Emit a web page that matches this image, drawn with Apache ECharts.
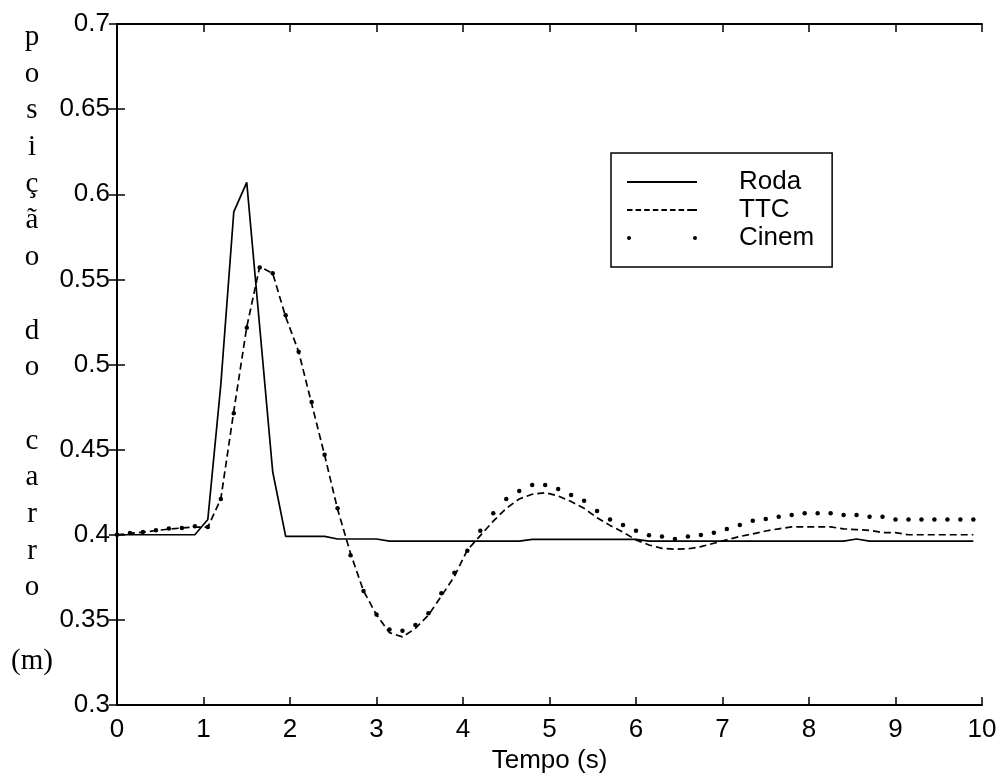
<!DOCTYPE html>
<html>
<head>
<meta charset="utf-8">
<script src="https://cdn.jsdelivr.net/npm/echarts@6/dist/echarts.min.js"></script>
<style>
html,body{margin:0;padding:0;background:#fff;}
#chart{width:1001px;height:776px;}
</style>
</head>
<body>
<div id="chart"></div>
<script>
// time samples (s)
const tempo = [0,0.15,0.3,0.45,0.6,0.75,0.9,1.05,1.2,1.35,1.5,1.65,1.8,1.95,2.1,2.25,2.4,2.55,2.7,2.85,
  3.0,3.15,3.3,3.45,3.6,3.75,3.9,4.05,4.2,4.35,4.5,4.65,4.8,4.95,5.1,5.25,5.4,5.55,5.7,5.85,
  6.0,6.15,6.3,6.45,6.6,6.75,6.9,7.05,7.2,7.35,7.5,7.65,7.8,7.95,8.1,8.25,8.4,8.55,8.7,8.85,
  9.0,9.15,9.3,9.45,9.6,9.75,9.9];

const roda = [0.4,0.4,0.4,0.4,0.4,0.4,0.4,0.409,0.488,0.5896,0.607,0.522,0.437,0.399,0.399,0.399,0.399,0.3975,0.3975,0.3975,
  0.3975,0.3963,0.3963,0.3963,0.3963,0.3963,0.3963,0.3963,0.3963,0.3963,0.3963,0.3963,0.3973,0.3973,0.3973,0.3973,0.3973,0.3973,0.3973,0.3973,
  0.3973,0.3963,0.3963,0.3963,0.3963,0.3963,0.3963,0.3963,0.3963,0.3963,0.3963,0.3963,0.3963,0.3963,0.3963,0.3963,0.3963,0.3975,0.3963,0.3963,
  0.3963,0.3963,0.3963,0.3963,0.3963,0.3963,0.3963];

const ttc = [0.400,0.4008,0.4015,0.4025,0.4033,0.404,0.4045,0.4045,0.421,0.4725,0.522,0.5575,0.5535,0.528,0.5075,0.477,0.4468,0.415,0.389,0.367,
  0.353,0.3425,0.340,0.345,0.3528,0.364,0.3755,0.391,0.3995,0.408,0.4155,0.421,0.4238,0.4247,0.4228,0.4195,0.4155,0.410,0.4055,0.4015,
  0.397,0.394,0.392,0.3915,0.3917,0.393,0.395,0.397,0.399,0.4005,0.4022,0.4035,0.4046,0.4046,0.4046,0.4046,0.4035,0.403,0.4026,0.4013,
  0.4012,0.4,0.4,0.4,0.4,0.4,0.4];

const cinem = [0.400,0.401,0.4016,0.4027,0.4037,0.404,0.405,0.4045,0.421,0.4713,0.5216,0.557,0.5536,0.529,0.5075,0.478,0.447,0.4155,0.388,0.367,
  0.3532,0.3444,0.3436,0.347,0.3539,0.3656,0.3777,0.3906,0.4024,0.4126,0.421,0.4257,0.4292,0.4292,0.4269,0.4233,0.42,0.414,0.409,0.4057,
  0.4024,0.3997,0.3989,0.3975,0.3989,0.3999,0.4012,0.4034,0.4057,0.4082,0.4092,0.4106,0.4116,0.4126,0.4126,0.4126,0.4116,0.4116,0.4106,0.4106,
  0.409,0.409,0.409,0.409,0.409,0.409,0.409];

const seriesNames = ['Roda','TTC','Cinem'];
const yTitleChars = ['p','o','s','i','ç','ã','o','','d','o','','c','a','r','r','o','','(m)'];
const xTitle = 'Tempo (s)';

const pairs = arr => tempo.map((t,i)=>[t, arr[i]]);
const sans = '"Liberation Sans", Arial, sans-serif';

const chart = echarts.init(document.getElementById('chart'), null, {renderer:'canvas'});
const axisLine = {show:true, lineStyle:{color:'#000', width:2}};
const tickIn = {show:true, inside:true, length:8, lineStyle:{color:'#000', width:1.5}};

// legend icon shapes
const solidIcon = 'path://M0,0h70v2h-70z';
const dashIcon = 'path://M0,0h5.5v2h-5.5zM8.6,0h5.5v2h-5.5zM17.2,0h5.5v2h-5.5zM25.8,0h5.5v2h-5.5zM34.4,0h5.5v2h-5.5zM43,0h5.5v2h-5.5zM51.6,0h5.5v2h-5.5zM60.2,0h5.5v2h-5.5zM64.5,0h5.5v2h-5.5z';
const dotIcon = 'path://M0,2a2,2 0 1,0 4,0a2,2 0 1,0 -4,0zM66,2a2,2 0 1,0 4,0a2,2 0 1,0 -4,0z';

chart.setOption({
  animation:false,
  backgroundColor:'#fff',
  grid:{left:117, right:19, top:24, bottom:71, containLabel:false, outerBoundsMode:'none'},
  xAxis:[
    {type:'value', min:0, max:10, interval:1, position:'bottom',
     axisLine, axisTick:tickIn, splitLine:{show:false},
     axisLabel:{color:'#000', fontSize:26, fontFamily:sans, margin:12},
     name:xTitle, nameLocation:'middle', nameGap:43,
     nameTextStyle:{color:'#000', fontSize:26, fontFamily:sans}},
    {type:'value', min:0, max:10, interval:1, position:'top',
     axisLine, axisTick:tickIn, axisLabel:{show:false}, splitLine:{show:false}}
  ],
  yAxis:[
    {type:'value', min:0.3, max:0.7, interval:0.05, position:'left',
     axisLine, axisTick:tickIn, splitLine:{show:false},
     axisLabel:{color:'#000', fontSize:26, fontFamily:sans, margin:7,
       formatter:v=>String(+v.toFixed(2))}},
    {type:'value', min:0.3, max:0.7, interval:0.05, position:'right',
     axisLine, axisTick:tickIn, axisLabel:{show:false}, splitLine:{show:false}}
  ],
  legend:{
    orient:'vertical', left:611, top:153,
    backgroundColor:'#fff', borderColor:'#000', borderWidth:1.5, borderRadius:0,
    padding:[15,18,15,16], itemGap:0, itemWidth:70, itemHeight:4,
    selectedMode:false,
    textStyle:{color:'#000', fontSize:26, fontFamily:sans, lineHeight:28, padding:[0,0,0,37]},
    data:[
      {name:seriesNames[0], icon:solidIcon, itemStyle:{color:'#000'}},
      {name:seriesNames[1], icon:dashIcon, itemStyle:{color:'#000'}},
      {name:seriesNames[2], icon:dotIcon, itemStyle:{color:'#000'}}
    ]
  },
  graphic:[{
    type:'text', x:32, y:19,
    style:{text:yTitleChars.join('\n'), fill:'#000', fontSize:29,
      fontFamily:'"Liberation Serif", "Times New Roman", serif', lineHeight:36.7,
      align:'center', verticalAlign:'top'}
  }],
  series:[
    {name:seriesNames[0], type:'line', data:pairs(roda), symbol:'none',
     lineStyle:{color:'#000', width:1.7, type:'solid'}, itemStyle:{color:'#000'}},
    {name:seriesNames[1], type:'line', data:pairs(ttc), symbol:'none',
     lineStyle:{color:'#000', width:1.7, type:[7,4]}, itemStyle:{color:'#000'}},
    {name:seriesNames[2], type:'line', data:pairs(cinem), symbol:'circle', symbolSize:4.5,
     showSymbol:true, showAllSymbol:true,
     lineStyle:{width:0, opacity:0}, itemStyle:{color:'#000', borderWidth:0}}
  ]
});
</script>
</body>
</html>
